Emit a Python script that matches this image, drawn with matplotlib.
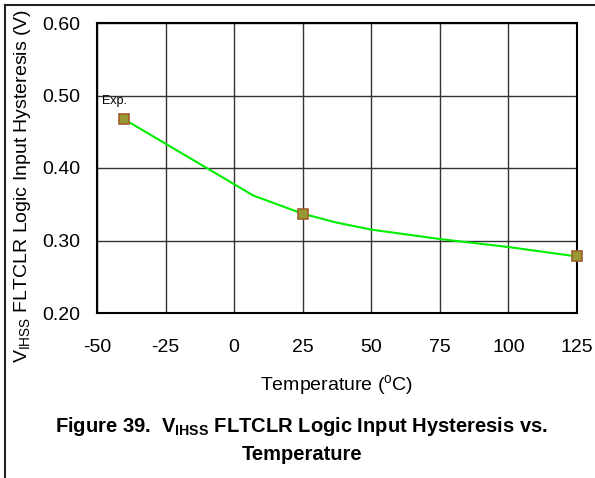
import matplotlib
matplotlib.use("Agg")
import matplotlib.pyplot as plt
from matplotlib.lines import Line2D

plt.rcParams['font.family'] = ['Liberation Sans', 'DejaVu Sans']

# Data
line_temp = [-40, 7, 25, 37, 50, 75, 100, 125]
line_vals = [0.467, 0.362, 0.337, 0.325, 0.315, 0.302, 0.291, 0.278]
marker_temp = [-40, 25, 125]
marker_vals = [0.467, 0.337, 0.278]
x_ticks = [-50, -25, 0, 25, 50, 75, 100, 125]
y_ticks = [0.20, 0.30, 0.40, 0.50, 0.60]

fig = plt.figure(figsize=(5.95, 4.78), dpi=100)
ax = fig.add_axes([97/595, 1 - 313/478, (577 - 97)/595, (313 - 23)/478])

ax.plot(line_temp, line_vals, color='#00ee00', lw=1.5, zorder=3)
ax.plot(marker_temp, marker_vals, ls='none', marker='s', ms=7.5,
        mfc='#999933', mec='#a0602a', mew=1.2, zorder=4, clip_on=False)
ax.text(-48.3, 0.492, 'Exp.', fontsize=9, va='center', ha='left')

ax.set_xlim(-50, 125)
ax.set_ylim(0.2, 0.6)
ax.set_xticks(x_ticks)
ax.set_yticks(y_ticks)
ax.set_xticklabels([str(t) for t in x_ticks])
ax.set_yticklabels([f'{v:.2f}' for v in y_ticks])
ax.tick_params(axis='both', length=0, labelsize=14, colors='black')
ax.tick_params(axis='x', pad=19)
ax.tick_params(axis='y', pad=12)
ax.grid(True, color='#333333', lw=1.0)
ax.set_axisbelow(True)
for s in ax.spines.values():
    s.set_linewidth(1.5)
    s.set_color('black')

ax.set_xlabel('Temperature ($\\mathregular{^o}$C)', fontsize=14)
ax.xaxis.set_label_coords(0.5, -(385 - 313) / 290, transform=ax.transAxes)
ax.xaxis.label.set_va('center')
ax.set_ylabel('V$\\mathregular{_{IHSS}}$ FLTCLR Logic Input Hysteresis (V)', fontsize=14)
ax.yaxis.set_label_coords(-(97 - 23) / 480, (313 - 186) / 290)
ax.yaxis.label.set_va('center')

fig.text(0.507, 1 - 426/478, 'Figure 39.  V$\\mathregular{_{IHSS}}$ FLTCLR Logic Input Hysteresis vs.',
         ha='center', va='center', fontsize=14.5, fontweight='bold')
fig.text(0.507, 1 - 455/478, 'Temperature', ha='center', va='center', fontsize=14.5, fontweight='bold')

fig.add_artist(Line2D([5/595, 1.0], [1 - 5/478, 1 - 5/478], transform=fig.transFigure, color='#222222', lw=1.5))
fig.add_artist(Line2D([5/595, 5/595], [0, 1 - 5/478], transform=fig.transFigure, color='#222222', lw=1.5))

fig.savefig('out.png', dpi=100)
